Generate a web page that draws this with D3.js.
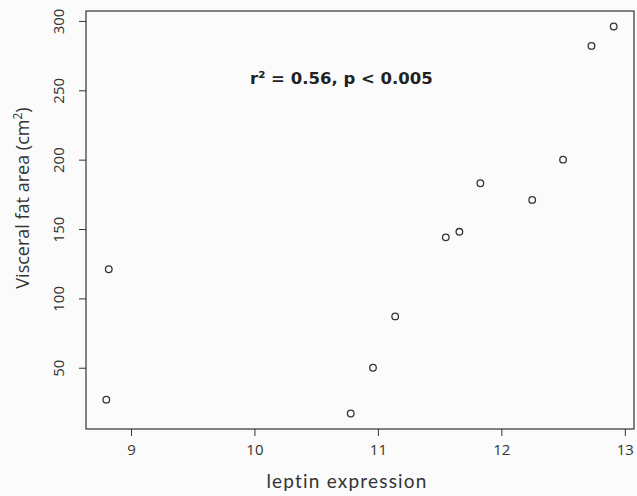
<!DOCTYPE html>
<html>
<head>
<meta charset="utf-8">
<script src="https://cdn.jsdelivr.net/npm/d3@7"></script>
<style>
  html, body { margin: 0; padding: 0; background: #fbfbfb; }
  svg { display: block; }
</style>
</head>
<body>
<svg id="chart" width="637" height="496"></svg>
<script>
// Leptin expression vs visceral fat area, one point per subject
const leptin = [8.80, 8.82, 10.78, 10.96, 11.14, 11.55, 11.66, 11.83, 12.25, 12.50, 12.73, 12.91];
const visceralFat = [27, 121, 17, 50, 87, 144, 148, 183, 171, 200, 282, 296];
const xTicks = [9, 10, 11, 12, 13];
const yTicks = [50, 100, 150, 200, 250, 300];
const annotation = "r² = 0.56, p < 0.005";

const svg = d3.select("#chart");
const margin = { left: 86, right: 3, top: 11, bottom: 67 };
const W = 637, H = 496;

// extend the data range by 4% on each side
function padded(vals) {
  const [lo, hi] = d3.extent(vals);
  const p = (hi - lo) * 0.04;
  return [lo - p, hi + p];
}

const x = d3.scaleLinear().domain(padded(leptin)).range([margin.left, W - margin.right]);
const y = d3.scaleLinear().domain(padded(visceralFat)).range([H - margin.bottom, margin.top]);

const ink = "#333";
const tickFont = "'Open Sans', 'DejaVu Sans', sans-serif";

// x axis
const xAxis = svg.append("g")
  .attr("transform", `translate(0,${H - margin.bottom})`)
  .call(d3.axisBottom(x).tickValues(xTicks).tickSize(7).tickPadding(8).tickFormat(d3.format("d")));
xAxis.select(".domain").remove();
xAxis.selectAll("line").attr("stroke", ink).attr("stroke-width", 1);
xAxis.selectAll("text").attr("fill", ink).style("font-family", tickFont).style("font-size", "15px");

// y axis, labels turned to read bottom-up
const yAxis = svg.append("g")
  .attr("transform", `translate(${margin.left},0)`)
  .call(d3.axisLeft(y).tickValues(yTicks).tickSize(7).tickFormat(d3.format("d")));
yAxis.select(".domain").remove();
yAxis.selectAll("line").attr("stroke", ink).attr("stroke-width", 1);
yAxis.selectAll("text")
  .attr("fill", ink)
  .style("font-family", tickFont).style("font-size", "15px")
  .attr("text-anchor", "middle")
  .attr("x", null)
  .attr("transform", "translate(-27,0) rotate(-90)")
  .attr("y", 0).attr("dy", "0.35em");

// plot frame
svg.append("rect")
  .attr("x", margin.left).attr("y", margin.top)
  .attr("width", W - margin.left - margin.right)
  .attr("height", H - margin.top - margin.bottom)
  .attr("fill", "none").attr("stroke", ink).attr("stroke-width", 1.2);

// points
svg.append("g").selectAll("circle")
  .data(leptin.map((v, i) => [v, visceralFat[i]]))
  .join("circle")
  .attr("cx", d => x(d[0]))
  .attr("cy", d => y(d[1]))
  .attr("r", 3.3)
  .attr("fill", "none")
  .attr("stroke", "#333")
  .attr("stroke-width", 1.3);

// axis titles
svg.append("text")
  .attr("x", 347).attr("y", 488)
  .attr("text-anchor", "middle")
  .attr("fill", ink)
  .style("font-family", "Lato, 'Open Sans', sans-serif")
  .style("font-size", "19px")
  .style("letter-spacing", "1.2px")
  .text("leptin expression");

const yTitle = svg.append("text")
  .attr("transform", "translate(29,198) rotate(-90)")
  .attr("text-anchor", "middle")
  .attr("fill", ink)
  .style("font-family", "'Open Sans', 'DejaVu Sans', sans-serif")
  .style("font-size", "18px");
yTitle.append("tspan").text("Visceral fat area (cm");
yTitle.append("tspan").attr("dy", -7).style("font-size", "12px").text("2");
yTitle.append("tspan").attr("dy", 7).text(")");

// correlation annotation
svg.append("text")
  .attr("x", 250).attr("y", 84)
  .attr("fill", "#222")
  .style("font-family", "'DejaVu Sans', Verdana, sans-serif")
  .style("font-weight", "bold")
  .style("font-size", "16.5px")
  .text(annotation);
</script>
</body>
</html>
